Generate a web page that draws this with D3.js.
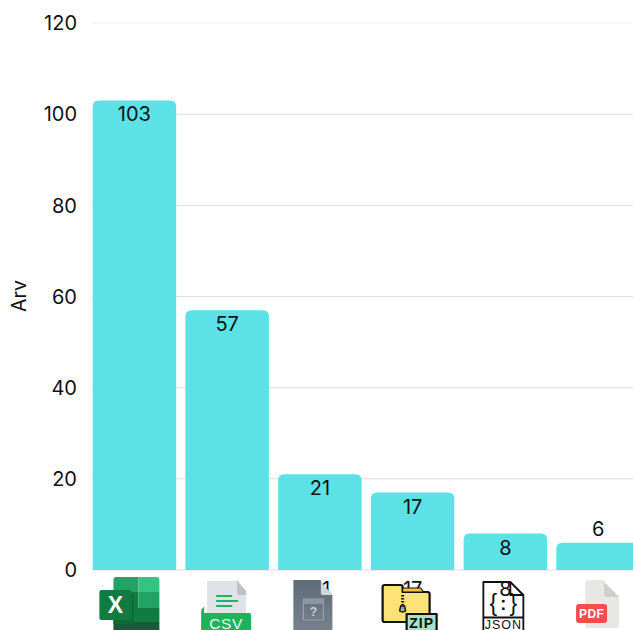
<!DOCTYPE html>
<html><head><meta charset="utf-8">
<script src="https://cdn.jsdelivr.net/npm/d3@7"></script>
<style>html,body{margin:0;padding:0;background:#fff;overflow:hidden}svg{display:block}text{font-family:Inter,"Open Sans",sans-serif;fill:#111}</style>
</head><body><svg id="c" width="633" height="630"></svg>
<script>
const fileTypes = ["xlsx","csv","unknown","zip","json","pdf"];
const counts = [103,57,21,17,8,6];
const yTicks = [0,20,40,60,80,100,120];
const yTitle = "Arv";
const barColor = "#5ce1e6";

const svg = d3.select("#c");
const x = d3.scaleBand().domain(fileTypes).range([88.5,644]).paddingInner(0.1).paddingOuter(0.045);
const y = d3.scaleLinear().domain([0,120]).range([570,23]);

const yAxis = d3.axisLeft(y).tickValues(yTicks).tickSize(0).tickPadding(0);
const gy = svg.append("g").attr("transform","translate(77,0)").call(yAxis);
gy.select(".domain").remove();
gy.selectAll("text").style("font-size","20px").attr("dy","0.34em");

svg.append("g").selectAll("line").data(yTicks).join("line")
  .attr("x1",92).attr("x2",633).attr("y1",d=>y(d)).attr("y2",d=>y(d))
  .attr("stroke",d=>d===120?"#f0f0f0":"#dedede").attr("stroke-width",1);

svg.append("text").attr("transform","translate(26,296) rotate(-90)").attr("text-anchor","middle")
  .style("font-size","19.5px").text(yTitle);

svg.append("g").selectAll("path").data(counts).join("path").attr("fill",barColor)
  .attr("d",(d,i)=>{
    const x0=x(fileTypes[i]),w=x.bandwidth(),t=y(d),b=y(0),r=6;
    return `M${x0},${b}V${t+r}Q${x0},${t} ${x0+r},${t}H${x0+w-r}Q${x0+w},${t} ${x0+w},${t+r}V${b}Z`;
  });

// value labels: inside the bar unless the bar is too short
svg.append("g").selectAll("text").data(counts).join("text")
  .attr("x",(d,i)=>x(fileTypes[i])+x.bandwidth()/2)
  .attr("y",d=> d<8 ? y(d)-14 : y(d)+14)
  .attr("dy","0.35em").attr("text-anchor","middle").style("font-size","20px").text(d=>d);

// duplicate labels that sit behind the axis icons
svg.append("g").selectAll("text").data(counts).join("text")
  .attr("x",(d,i)=>x(fileTypes[i])+x.bandwidth()/2)
  .attr("y",589).attr("dy","0.35em").attr("text-anchor","middle").style("font-size","20px").text(d=>d);

// axis icons
const icons = svg.append("g").selectAll("g").data(fileTypes).join("g")
  .attr("transform",d=>`translate(${x(d)+x.bandwidth()/2},0)`);
const P=(g,d,f,extra={})=>{const p=g.append("path").attr("d",d).attr("fill",f);for(const k in extra)p.attr(k,extra[k]);return p;};
const T=(g,s,xx,yy,size,f,w,ls)=>g.append("text").attr("x",xx).attr("y",yy).attr("text-anchor","middle")
  .style("font-size",size+"px").style("font-weight",w||700).style("letter-spacing",(ls||0)+"px").style("font-family","'Liberation Sans',sans-serif").style("fill",f).text(s);
const draw = {
  xlsx(g){
    P(g,"M-21,580Q-21,577 -18,577H4V592H-21Z","#21a366");
    P(g,"M4,577H22Q25,577 25,580V592H4Z","#33c481");
    P(g,"M-21,592H4V608H-21Z","#107c41");
    P(g,"M4,592H25V608H4Z","#21a366");
    P(g,"M-21,608H25V622H-21Z","#107c41");
    P(g,"M-21,622H25V632H-21Z","#185c37");
    P(g,"M-21,594H-1V624H-21Z","#0f6a38");
    P(g,"M-35,592Q-35,590 -33,590H-5Q-3,590 -3,592V618Q-3,620 -5,620H-33Q-35,620 -35,618Z","#107c41");
    T(g,"X",-19,613,23,"#fff");
  },
  csv(g){
    P(g,"M-20,581H10L19,591V632H-20Z","#dfe3e8");
    P(g,"M10,581L19,591V595H12Q10,595 10,593Z","#b9c1cb");
    P(g,"M-11,595H5V597H-11ZM-11,600H11V602H-11ZM-11,605H5V607H-11Z","#21b35f");
    P(g,"M-26,612Q-26,608 -23,607V613H22Q24,613 24,615V632H-26Z","#1fb25d");
    T(g,"CSV",-1,629,15.5,"#e8f7ee",400,0.6);
  },
  unknown(g){
    const id="grad-unk";
    const lg=svg.append("defs").append("linearGradient").attr("id",id).attr("x1",0).attr("x2",0).attr("y1",0).attr("y2",1);
    lg.append("stop").attr("offset",0).attr("stop-color","#5f6b78");
    lg.append("stop").attr("offset",1).attr("stop-color","#77828e");
    P(g,"M-26.5,580H1V582L12.5,595V632H-26.5Z",`url(#${id})`);
    P(g,"M1,582L12.5,595H3Q1,595 1,593Z","#d3d7db");
    P(g,"M-16.5,599H3.5V620H-16.5Z","none",{stroke:"#9aa2ab","stroke-width":1.2});
    P(g,"M-16.5,599H3.5V604H-16.5Z","#8d96a0");
    T(g,"?",-6.5,616,12,"#c8ccd1");
  },
  zip(g){
    const st={stroke:"#111","stroke-width":2.2,"stroke-linejoin":"round"};
    P(g,"M-30,587Q-30,585 -28,585H-12Q-10,585 -10,587V592H15Q17,592 17,594V622H-28Q-30,622 -30,620Z","#fde278",st);
    P(g,"M-10,588H8L11,592H-10Z","#f1c63a",{stroke:"#111","stroke-width":1.2});
    P(g,"M-10,595V605","none",{stroke:"#111","stroke-width":3,"stroke-dasharray":"1.5 1.5"});
    P(g,"M-12,606H-8L-7,611Q-10,613 -13,611Z","#9ea3a8",{stroke:"#111","stroke-width":1.4});
    P(g,"M-6,614H24V634H-6Z","#a4e3c5",st);
    T(g,"ZIP",9,628,14,"#111",700,1);
  },
  json(g){
    const st={stroke:"#111","stroke-width":1.8,"stroke-linejoin":"round"};
    P(g,"M-22,582H5L18,595V634H-22Z","none",st);
    P(g,"M5,582V595H18","none",st);
    P(g,"M-22,617.5H18","none",st);
    T(g,"{",-12,611,23,"#111",400);
    T(g,"}",8,611,23,"#111",400);
    T(g,":",-2,610,18,"#111",700);
    T(g,"JSON",-2,629,12.5,"#111",400,1);
  },
  pdf(g){
    P(g,"M-13,583Q-13,580 -10,580H6V582L21,597V625Q21,628 18,628H-10Q-13,628 -13,625Z","#e7e7e3");
    P(g,"M6,582L21,597H9Q6,597 6,594Z","#cfcfca");
    P(g,"M-22,607Q-22,604 -19,604H6Q9,604 9,607V620Q9,623 6,623H-19Q-22,623 -22,620Z","#f64b4f");
    T(g,"PDF",-6.5,618,12,"#fff",700,0.4);
  }
};
icons.each(function(d){draw[d](d3.select(this));});
</script></body></html>
